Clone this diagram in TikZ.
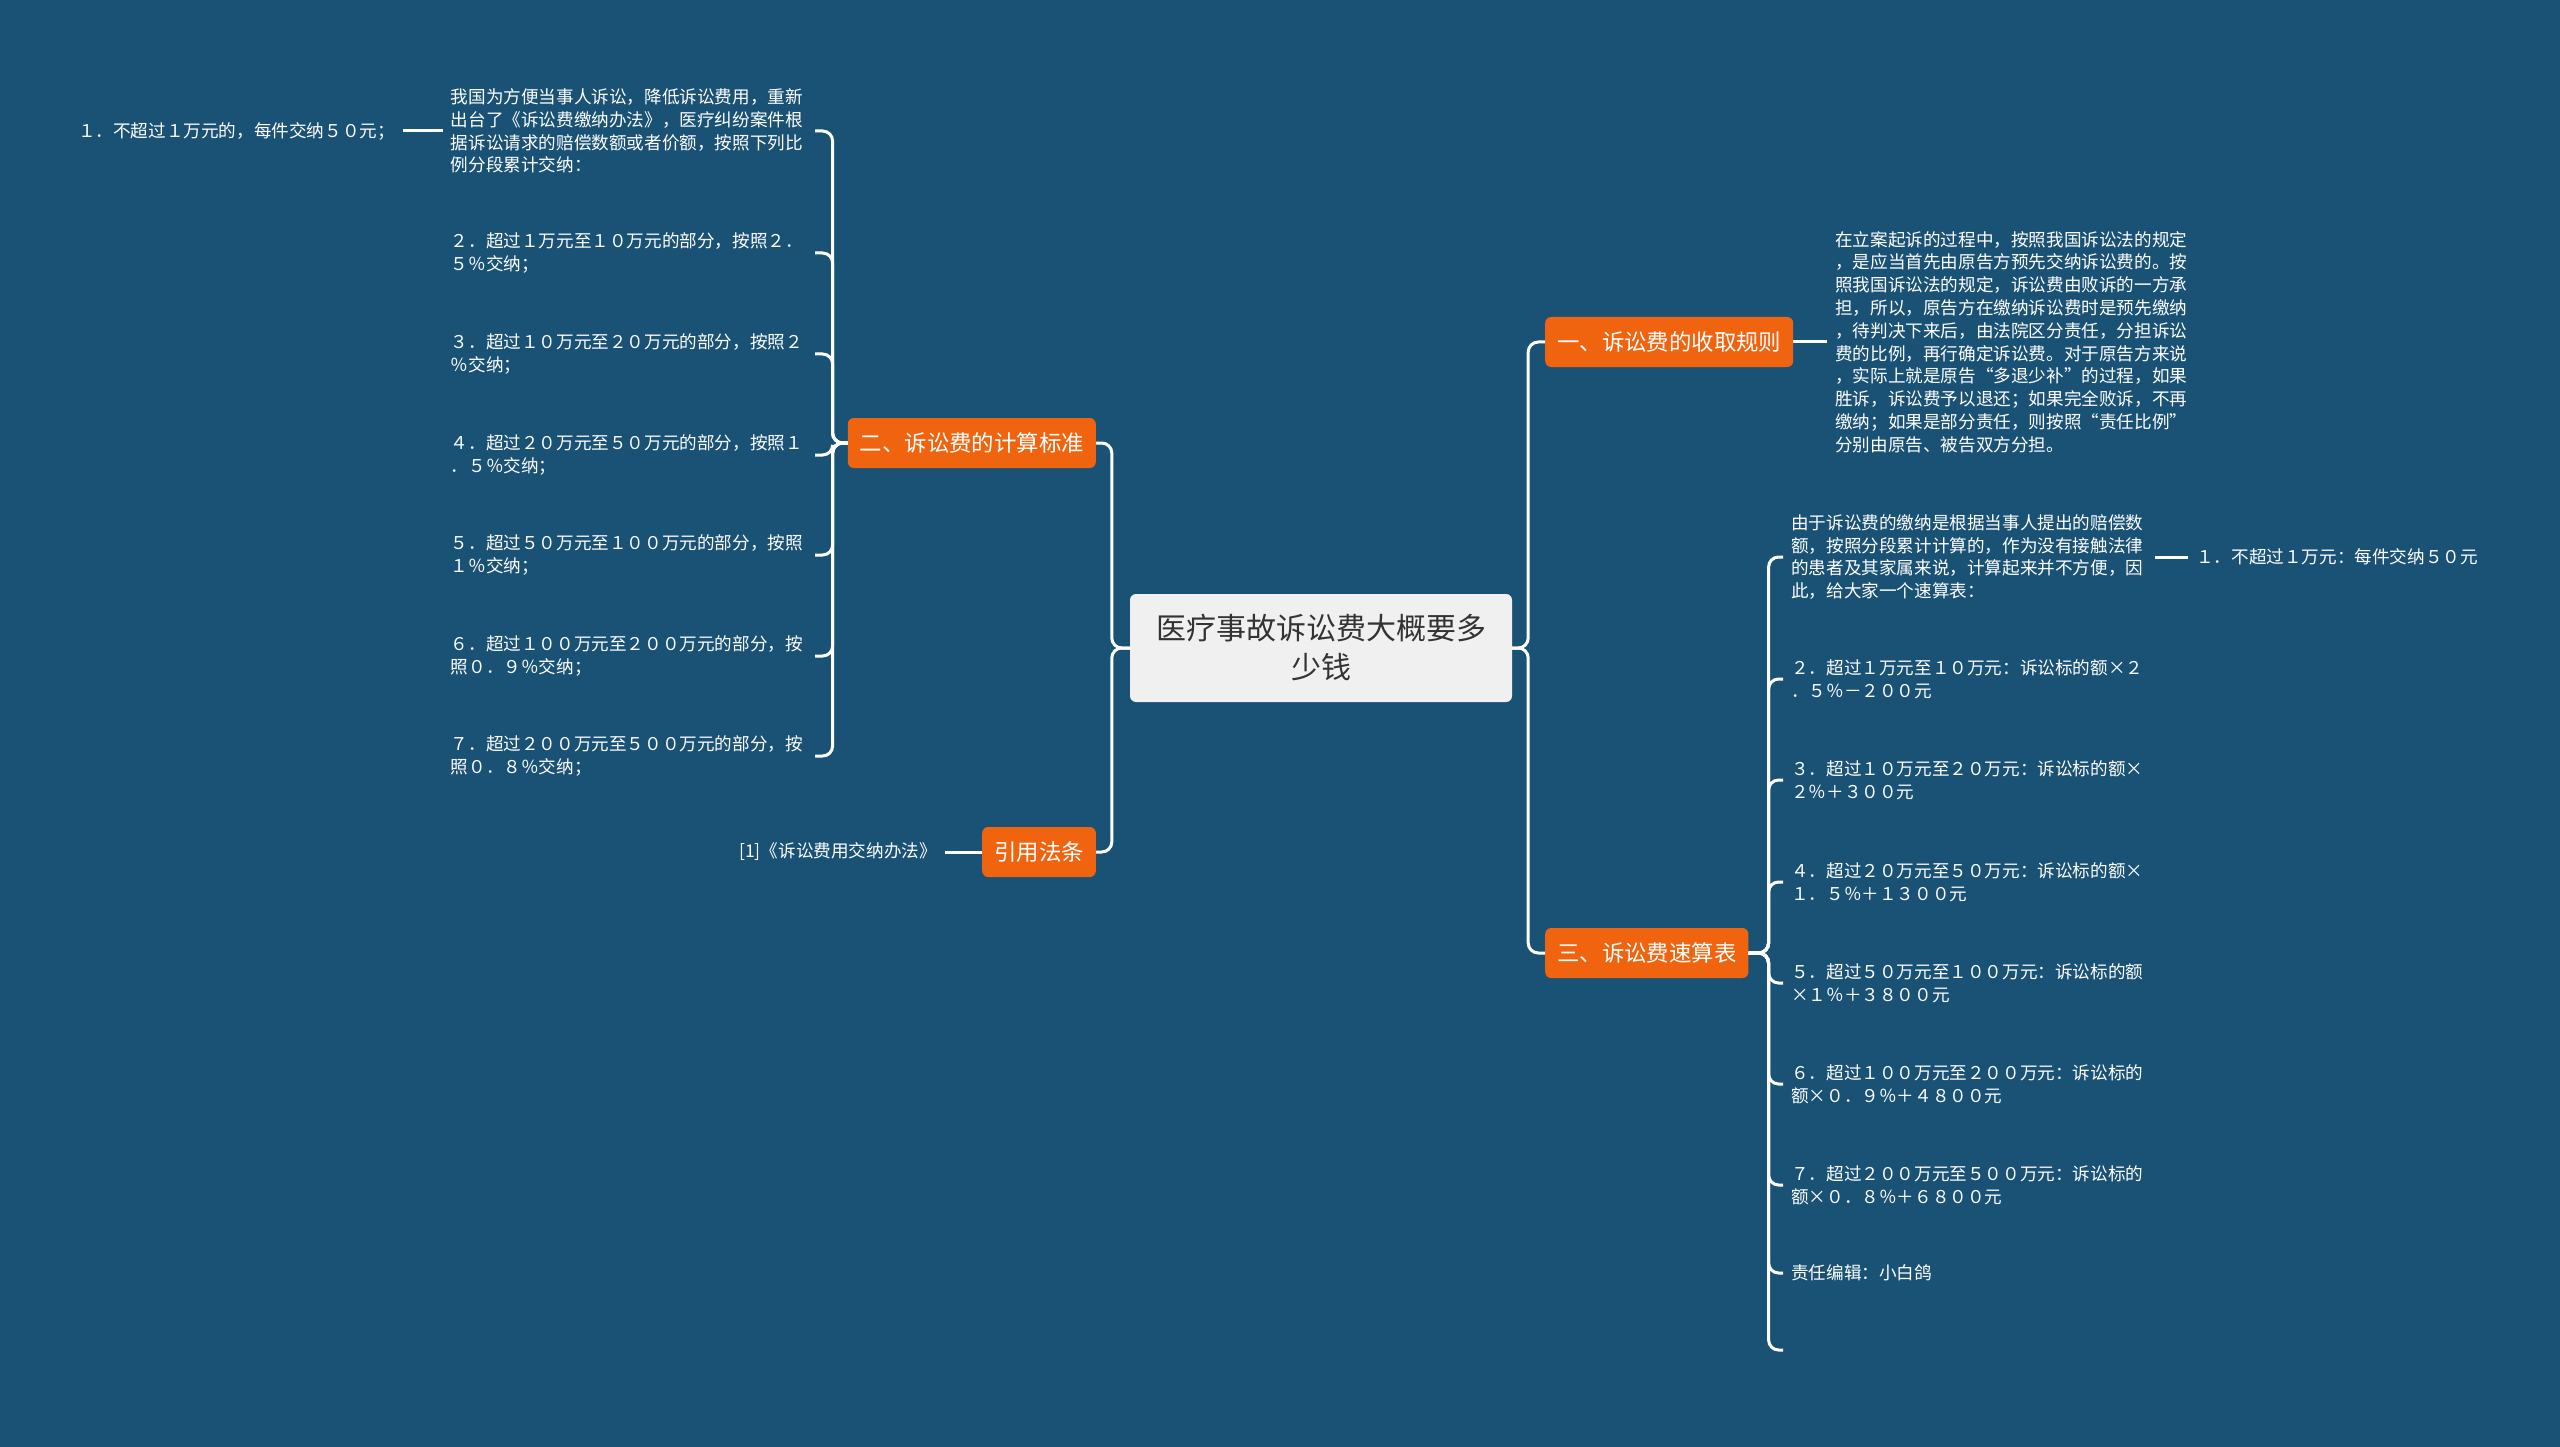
\documentclass[tikz,border=0pt]{standalone}
\usepackage{fontspec}
\setmainfont{Noto Sans CJK SC}
\usepackage{tikz}
\usetikzlibrary{positioning}
\definecolor{deep}{HTML}{1A5276}
\definecolor{flame}{HTML}{F0640F}
\definecolor{paper}{HTML}{F0F0F0}
\definecolor{graphite}{HTML}{333333}
\tikzset{rootbox/.style={fill=paper,text=graphite,rounded corners=6pt,minimum width=382pt,minimum height=108pt,align=center,font=\fontsize{30}{39}\selectfont},topicbox/.style={fill=flame,text=white,rounded corners=6pt,minimum height=50pt,inner xsep=12pt,font=\fontsize{22.4}{26}\selectfont},leaftext/.style={text=white,text width=356pt,align=left,inner sep=8pt,font=\fontsize{17.6}{22.8}\selectfont},plaintext/.style={text=white,inner sep=8pt,font=\fontsize{17.6}{22.8}\selectfont},linkline/.style={draw=white,line width=3pt,rounded corners=10pt}}

\begin{document}
\begin{tikzpicture}[x=1pt,y=-1pt]
\fill[deep] (0,0) rectangle (2560,1447);
\useasboundingbox (0,0) rectangle (2560,1447);
\node[rootbox] (root) at (1321,648) {医疗事故诉讼费大概要多\\少钱};
\node[topicbox,anchor=west] (rule) at (1545,342) {一、诉讼费的收取规则};
\node[topicbox,anchor=west] (quick) at (1545,953) {三、诉讼费速算表};
\node[topicbox,anchor=east] (calc) at (1096,443) {二、诉讼费的计算标准};
\node[topicbox,anchor=east] (law) at (1096,852) {引用法条};
\node[leaftext,anchor=west] (ruletxt) at (1827,342) {在立案起诉的过程中，按照我国诉讼法的规定\\，是应当首先由原告方预先交纳诉讼费的。按\\照我国诉讼法的规定，诉讼费由败诉的一方承\\担，所以，原告方在缴纳诉讼费时是预先缴纳\\，待判决下来后，由法院区分责任，分担诉讼\\费的比例，再行确定诉讼费。对于原告方来说\\，实际上就是原告“多退少补”的过程，如果\\胜诉，诉讼费予以退还；如果完全败诉，不再\\缴纳；如果是部分责任，则按照“责任比例”\\分别由原告、被告双方分担。};
\node[leaftext,anchor=west] (q0) at (1783,557) {由于诉讼费的缴纳是根据当事人提出的赔偿数\\额，按照分段累计计算的，作为没有接触法律\\的患者及其家属来说，计算起来并不方便，因\\此，给大家一个速算表：};
\node[plaintext,anchor=west] (q1) at (2188,557) {１．不超过１万元：每件交纳５０元};
\node[leaftext,anchor=west] (q2) at (1783,679) {２．超过１万元至１０万元：诉讼标的额×２\\．５％－２００元};
\node[leaftext,anchor=west] (q3) at (1783,780) {３．超过１０万元至２０万元：诉讼标的额×\\２％＋３００元};
\node[leaftext,anchor=west] (q4) at (1783,882) {４．超过２０万元至５０万元：诉讼标的额×\\１．５％＋１３００元};
\node[leaftext,anchor=west] (q5) at (1783,983) {５．超过５０万元至１００万元：诉讼标的额\\×１％＋３８００元};
\node[leaftext,anchor=west] (q6) at (1783,1084) {６．超过１００万元至２００万元：诉讼标的\\额×０．９％＋４８００元};
\node[leaftext,anchor=west] (q7) at (1783,1185) {７．超过２００万元至５００万元：诉讼标的\\额×０．８％＋６８００元};
\node[leaftext,anchor=west] (q8) at (1783,1273) {责任编辑：小白鸽};
\coordinate (qend) at (1783,1350);
\node[leaftext,anchor=east] (c0) at (815,131) {我国为方便当事人诉讼，降低诉讼费用，重新\\出台了《诉讼费缴纳办法》，医疗纠纷案件根\\据诉讼请求的赔偿数额或者价额，按照下列比\\例分段累计交纳：};
\node[plaintext,anchor=east] (c1) at (403,131) {１．不超过１万元的，每件交纳５０元；};
\node[leaftext,anchor=east] (c2) at (815,253) {２．超过１万元至１０万元的部分，按照２．\\５％交纳；};
\node[leaftext,anchor=east] (c3) at (815,354) {３．超过１０万元至２０万元的部分，按照２\\％交纳；};
\node[leaftext,anchor=east] (c4) at (815,455) {４．超过２０万元至５０万元的部分，按照１\\．５％交纳；};
\node[leaftext,anchor=east] (c5) at (815,555) {５．超过５０万元至１００万元的部分，按照\\１％交纳；};
\node[leaftext,anchor=east] (c6) at (815,656) {６．超过１００万元至２００万元的部分，按\\照０．９％交纳；};
\node[leaftext,anchor=east] (c7) at (815,756) {７．超过２００万元至５００万元的部分，按\\照０．８％交纳；};
\node[plaintext,anchor=east] (ref) at (945,852) {[1]《诉讼费用交纳办法》};
\draw[linkline] (root.east) -- ++(16,0) |- (rule.west);
\draw[linkline] (root.east) -- ++(16,0) |- (quick.west);
\draw[linkline] (root.west) -- ++(-18,0) |- (calc.east);
\draw[linkline] (root.west) -- ++(-18,0) |- (law.east);
\draw[linkline] (rule.east) -- (ruletxt.west);
\draw[linkline] (quick.east) -- ++(20,0) |- (q0.west);
\draw[linkline] (quick.east) -- ++(20,0) |- (q2.west);
\draw[linkline] (quick.east) -- ++(20,0) |- (q3.west);
\draw[linkline] (quick.east) -- ++(20,0) |- (q4.west);
\draw[linkline] (quick.east) -- ++(20,0) |- (q5.west);
\draw[linkline] (quick.east) -- ++(20,0) |- (q6.west);
\draw[linkline] (quick.east) -- ++(20,0) |- (q7.west);
\draw[linkline] (quick.east) -- ++(20,0) |- (q8.west);
\draw[linkline] (quick.east) -- ++(20,0) |- (qend);
\draw[linkline] (q0.east) -- (q1.west);
\draw[linkline] (calc.west) -- ++(-15,0) |- (c0.east);
\draw[linkline] (calc.west) -- ++(-15,0) |- (c2.east);
\draw[linkline] (calc.west) -- ++(-15,0) |- (c3.east);
\draw[linkline] (calc.west) -- ++(-15,0) |- (c4.east);
\draw[linkline] (calc.west) -- ++(-15,0) |- (c5.east);
\draw[linkline] (calc.west) -- ++(-15,0) |- (c6.east);
\draw[linkline] (calc.west) -- ++(-15,0) |- (c7.east);
\draw[linkline] (c0.west) -- (c1.east);
\draw[linkline] (law.west) -- (ref.east);
\end{tikzpicture}
\end{document}
